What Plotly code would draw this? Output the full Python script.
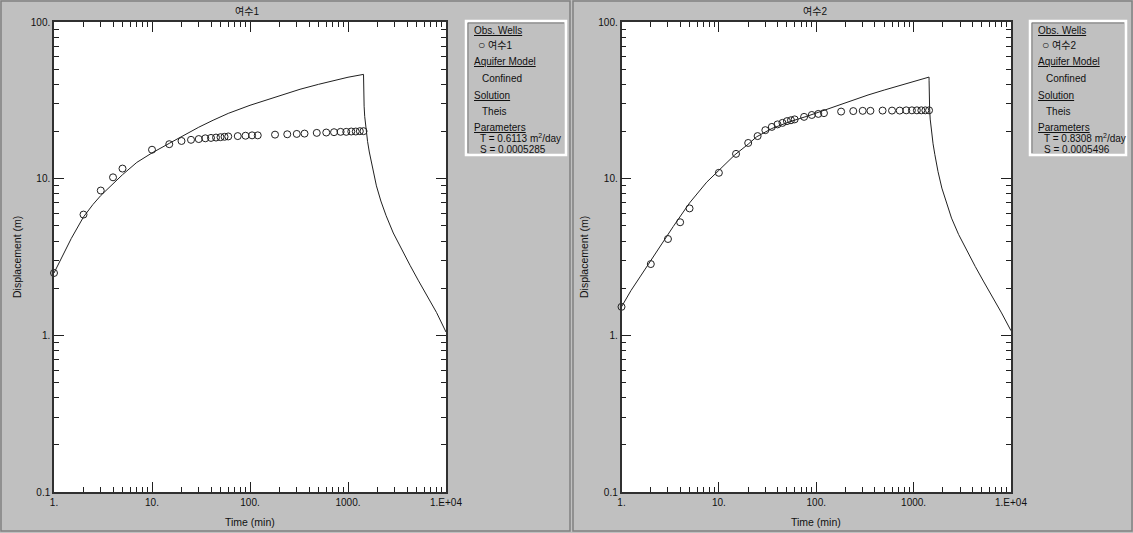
import plotly.graph_objects as go

# ---------------- data ----------------
obs_time = [1, 2, 3, 4, 5, 10, 15, 20, 25, 30, 35, 40, 45, 50, 55, 60, 75, 90, 105, 120,
            180, 240, 300, 360, 480, 600, 720, 840, 960, 1080, 1200, 1320, 1440]
well1_obs = [2.5, 5.9, 8.4, 10.2, 11.6, 15.3, 16.6, 17.4, 17.7, 17.9, 18.1, 18.2, 18.3, 18.4, 18.5, 18.6,
             18.7, 18.8, 18.9, 18.9, 19.1, 19.2, 19.3, 19.4, 19.6, 19.7, 19.8, 19.9, 19.9, 20.0, 20.0, 20.1, 20.1]
well2_obs = [1.52, 2.85, 4.12, 5.27, 6.46, 10.9, 14.4, 16.9, 18.7, 20.4, 21.4, 22.2, 22.7, 23.3, 23.6, 23.9,
             24.8, 25.5, 25.9, 26.2, 26.8, 27.0, 27.1, 27.1, 27.2, 27.2, 27.2, 27.3, 27.3, 27.3, 27.3, 27.3, 27.3]

well1_curve_t = [1, 1.25, 1.5, 2, 2.5, 3, 4, 5, 7, 10, 15, 20, 30, 42, 60, 100, 150, 200, 324, 500, 700, 1000, 1440,
                 1441, 1442, 1445, 1450, 1460, 1480, 1500, 1540, 1583, 1650, 1780, 1950, 2165, 2450, 2898,
                 3500, 4295, 5200, 6353, 8000, 10000]
well1_curve_s = [2.5, 3.35, 4.15, 5.7, 6.85, 7.8, 9.35, 10.6, 12.7, 14.6, 16.8, 18.6, 21.3, 23.6, 26.1, 29.4, 32.0,
                 34.0, 37.2, 40.0, 42.2, 44.4, 46.3,
                 44.0, 41.0, 37.0, 33.0, 29.0, 25.0, 23.0, 19.5, 17.3, 14.8, 11.5, 9.0, 7.2, 5.8, 4.5,
                 3.55, 2.8, 2.25, 1.82, 1.40, 1.05]

well2_curve_t = [1, 1.25, 1.55, 2, 2.3, 3.4, 5, 7.5, 10, 14.6, 20, 24.4, 35, 53.5, 80, 113, 174, 250, 340, 500, 700,
                 1000, 1440,
                 1441, 1442, 1445, 1450, 1460, 1480, 1500, 1540, 1583, 1650, 1780, 1950, 2165, 2450, 2898,
                 3500, 4295, 5200, 6353, 8000, 10000]
well2_curve_s = [1.52, 1.93, 2.36, 3.0, 3.45, 4.95, 7.0, 9.5, 11.3, 14.2, 16.6, 18.5, 20.9, 23.1, 25.0, 27.0, 29.8,
                 32.1, 34.2, 36.8, 39.1, 41.6, 44.5,
                 42.5, 39.5, 35.5, 31.5, 27.8, 24.0, 22.0, 18.8, 16.7, 14.3, 11.1, 8.7, 7.0, 5.6, 4.4,
                 3.5, 2.75, 2.22, 1.8, 1.39, 1.07]

x_tickvals = [1, 10, 100, 1000, 10000]
x_ticktext = ["1.", "10.", "100.", "1000.", "1.E+04"]
y_tickvals = [0.1, 1, 10, 100]
y_ticktext = ["0.1", "1.", "10.", "100."]
x_minor = [m * d for d in [1, 10, 100, 1000] for m in range(2, 10)]
y_minor = [m * d for d in [0.1, 1, 10] for m in range(2, 10)]

titles = ["여수1", "여수2"]
well_names = ["여수1", "여수2"]
param_T = ["0.6113", "0.8308"]
param_S = ["0.0005285", "0.0005496"]

# ---------------- layout helpers ----------------
W, H = 1133, 533
def xp(px):
    return px / W
def yp(py):
    return 1 - py / H

FONT = "Liberation Sans, Arial, Noto Sans CJK KR, sans-serif"
INK = "#101010"

fig = go.Figure()
fig.add_trace(go.Scatter(x=well1_curve_t, y=well1_curve_s, mode="lines",
                         line=dict(color="#202020", width=1),
                         xaxis="x", yaxis="y", showlegend=False))
fig.add_trace(go.Scatter(x=obs_time, y=well1_obs, mode="markers",
                         marker=dict(symbol="circle-open", size=7, color="#202020", line=dict(width=1)),
                         xaxis="x", yaxis="y", showlegend=False, cliponaxis=False))
fig.add_trace(go.Scatter(x=well2_curve_t, y=well2_curve_s, mode="lines",
                         line=dict(color="#202020", width=1),
                         xaxis="x2", yaxis="y2", showlegend=False))
fig.add_trace(go.Scatter(x=obs_time, y=well2_obs, mode="markers",
                         marker=dict(symbol="circle-open", size=7, color="#202020", line=dict(width=1)),
                         xaxis="x2", yaxis="y2", showlegend=False, cliponaxis=False))

def xaxis(domain, anchor):
    return dict(type="log", range=[0, 4], domain=domain, anchor=anchor, automargin=False,
                tickmode="array", tickvals=x_tickvals, ticktext=x_ticktext,
                ticks="inside", ticklen=10, tickwidth=1, tickcolor="#202020",
                minor=dict(tickmode="array", tickvals=x_minor, ticks="inside", ticklen=5,
                           tickwidth=1, tickcolor="#202020", showgrid=False),
                showgrid=False, zeroline=False, showline=True, linecolor="#303030", linewidth=1.5,
                mirror="ticks", tickfont=dict(family=FONT, size=10, color=INK))

def yaxis(domain, anchor):
    return dict(type="log", range=[-1, 2], domain=domain, anchor=anchor, automargin=False,
                tickmode="array", tickvals=y_tickvals, ticktext=y_ticktext,
                ticks="inside", ticklen=10, tickwidth=1, tickcolor="#202020",
                minor=dict(tickmode="array", tickvals=y_minor, ticks="inside", ticklen=5,
                           tickwidth=1, tickcolor="#202020", showgrid=False),
                showgrid=False, zeroline=False, showline=True, linecolor="#303030", linewidth=1.5,
                mirror="ticks", tickfont=dict(family=FONT, size=10, color=INK))

ydom = [yp(492), yp(22)]
fig.update_layout(
    width=W, height=H, margin=dict(l=0, r=0, t=0, b=0),
    paper_bgcolor="#C0C0C0", plot_bgcolor="white",
    xaxis=xaxis([xp(54), xp(446)], "y"),
    yaxis=yaxis(ydom, "x"),
    xaxis2=xaxis([xp(621.5), xp(1011)], "y2"),
    yaxis2=yaxis(ydom, "x2"),
)

shapes = []
annotations = []
# panel borders
for (x0, x1) in [(1, 570), (573, 1132)]:
    shapes.append(dict(type="rect", xref="paper", yref="paper", x0=xp(x0), x1=xp(x1), y0=yp(531), y1=yp(1),
                       line=dict(color="#808080", width=1.5), layer="below"))

# titles and axis titles
for cx, t in zip([247, 815], titles):
    annotations.append(dict(xref="paper", yref="paper", x=xp(cx), y=yp(11), text=t, showarrow=False,
                            font=dict(family=FONT, size=10, color=INK), xanchor="center", yanchor="middle"))
for cx in [250, 816]:
    annotations.append(dict(xref="paper", yref="paper", x=xp(cx), y=yp(522), text="Time (min)", showarrow=False,
                            font=dict(family=FONT, size=10.5, color=INK), xanchor="center", yanchor="middle"))
for cx in [17, 584]:
    annotations.append(dict(xref="paper", yref="paper", x=xp(cx), y=yp(257), text="Displacement (m)",
                            showarrow=False, textangle=-90,
                            font=dict(family=FONT, size=10.5, color=INK), xanchor="center", yanchor="middle"))

# legend boxes
for i, bx in enumerate([466, 1030]):
    bw = 100 if i == 0 else 96
    shapes.append(dict(type="rect", xref="paper", yref="paper", x0=xp(bx), x1=xp(bx + bw), y0=yp(155), y1=yp(21),
                       line=dict(color="white", width=2.5), fillcolor="#C0C0C0"))
    shapes.append(dict(type="path", xref="paper", yref="paper",
                       path=f"M {xp(bx+2)} {yp(153)} L {xp(bx+2)} {yp(23)} L {xp(bx+bw-2)} {yp(23)}",
                       line=dict(color="#7A7A7A", width=1)))
    lines = [
        (31, 6, "<u>Obs. Wells</u>"),
        (45, 10, "<span style='font-size:12px'>○</span> " + well_names[i]),
        (62, 6, "<u>Aquifer Model</u>"),
        (78, 14, "Confined"),
        (96, 6, "<u>Solution</u>"),
        (111, 14, "Theis"),
        (127, 6, "<u>Parameters</u>"),
        (138, 12, f"T = {param_T[i]} m<sup>2</sup>/day"),
        (149, 12, f"S = {param_S[i]}"),
    ]
    for py, dx, txt in lines:
        annotations.append(dict(xref="paper", yref="paper", x=xp(bx + dx), y=yp(py), text=txt,
                                showarrow=False, xanchor="left", yanchor="middle",
                                font=dict(family=FONT, size=10, color=INK)))

fig.update_layout(shapes=shapes, annotations=annotations)
fig.write_html("out.html", config={"displayModeBar": False},
               post_script="document.body.style.margin='0px';document.body.style.padding='0px';")
